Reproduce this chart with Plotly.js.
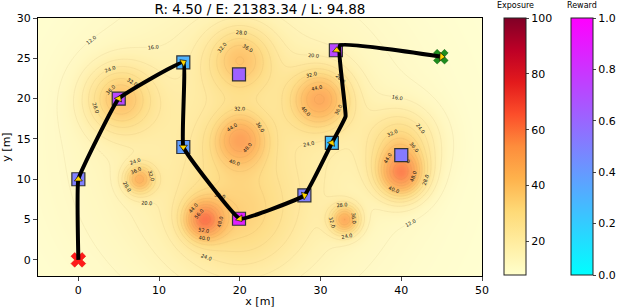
<!DOCTYPE html>
<html>
<head>
<meta charset="utf-8">
<script src="https://cdn.plot.ly/plotly-3.0.1.min.js"></script>
<style>html,body{margin:0;padding:0;background:#fff;}#chart{width:618px;height:308px;}</style>
</head>
<body>
<div id="chart"></div>
<script>
// ---- Exposure hotspots ----
const hotX   = [5,   20,  20,  7.5, 15.5, 20, 30,  40,   40,   33];
const hotY   = [20,  25,  15,  10,  5,    5,  20,  10.5, 14.5, 5];
const hotAmp = [25,  21,  26,  28,  33,   14, 30,  38,   20,   32];
const hotSig = [2.9, 2.9, 2.3, 1.3, 1.7,  5,  2.6, 2.1,  3.0,  1.3];
// broad background exposure
const bgLevel = 8, bgX = 20, bgY = 14, bgAmp = 16, bgSig = 13;

// ---- Path (waypoints travelled) ----
const pathX = [0, 0, 5, 13, 13, 20, 28, 31.4, 33.1, 32.4, 45];
const pathY = [0, 10, 20, 24.5, 14, 5.1, 8, 14.5, 17.8, 26.6, 25.2];
// arrow markers at the real waypoints
const arrowX = [0, 0, 5, 13, 13, 20, 28, 31.4, 32, 45];
const arrowY = [0, 10, 20, 24.5, 14, 5.1, 8, 14.5, 26, 25.2];

// ---- Reward squares ----
const rewX = [0,   5,    13,  19.9, 13,   19.9, 28,  31.4, 31.9, 40];
const rewY = [10,  20,   24.5, 23,  14,   5.1,  8,   14.5, 26,   13];
const rewV = [0.5, 0.72, 0.3, 0.62, 0.38, 0.88, 0.5, 0.25, 0.72, 0.52];

const startPt = [0, 0];
const endPt = [44.9, 25.2];

const titleText = 'R: 4.50 / E: 21383.34 / L: 94.88';

// ---- build grid ----
const gx = [], gy = [];
for (let x = -5; x <= 50.001; x += 0.25) gx.push(+x.toFixed(2));
for (let y = -2; y <= 30.001; y += 0.25) gy.push(+y.toFixed(2));
const gz = gy.map(y => gx.map(x => {
  let v = bgLevel + bgAmp * Math.exp(-((x-bgX)**2 + (y-bgY)**2) / (2*bgSig*bgSig));
  for (let i = 0; i < hotX.length; i++) {
    v += hotAmp[i] * Math.exp(-((x-hotX[i])**2 + (y-hotY[i])**2) / (2*hotSig[i]*hotSig[i]));
  }
  return v;
}));

const ylorrd = [
  [0, 'rgb(255,255,204)'], [0.125, 'rgb(255,237,160)'], [0.25, 'rgb(254,217,118)'],
  [0.375, 'rgb(254,178,76)'], [0.5, 'rgb(253,141,60)'], [0.625, 'rgb(252,78,42)'],
  [0.75, 'rgb(227,26,28)'], [0.875, 'rgb(189,0,38)'], [1, 'rgb(128,0,38)']
];

const traces = [
  {
    type: 'heatmap', x: gx, y: gy, z: gz, zsmooth: 'best',
    colorscale: ylorrd, zmin: 8, zmax: 100, opacity: 0.86,
    hoverinfo: 'skip',
    colorbar: {
      x: (504 - 38) / 444, xanchor: 'left', y: 1, yanchor: 'top',
      len: 257, lenmode: 'pixels', thickness: 22, thicknessmode: 'pixels',
      outlinecolor: '#222', outlinewidth: 1, xpad: 0, ypad: 0,
      tickvals: [20, 40, 60, 80, 100], ticks: 'outside', ticklen: 3,
      tickfont: {size: 11, color: '#000'}
    }
  },
  {
    type: 'contour', x: gx, y: gy, z: gz, showscale: false, hoverinfo: 'skip',
    contours: {coloring: 'none', start: 12, end: 68, size: 4, showlabels: true,
               labelformat: '.1f',
               labelfont: {size: 5, color: '#111'}},
    line: {color: 'rgba(170,130,80,0.18)', width: 0.5, smoothing: 1}
  },
  {
    type: 'scatter', mode: 'markers', x: rewX, y: rewY, hoverinfo: 'skip',
    marker: {
      symbol: 'square', size: 13, color: rewV, cmin: 0, cmax: 1,
      colorscale: [[0, '#00ffff'], [1, '#ff00ff']],
      line: {color: '#333', width: 1.2},
      colorbar: {
        x: (571 - 38) / 444, xanchor: 'left', y: 1, yanchor: 'top',
        len: 257, lenmode: 'pixels', thickness: 22, thicknessmode: 'pixels',
        outlinecolor: '#222', outlinewidth: 1, xpad: 0, ypad: 0,
        tickvals: [0, 0.2, 0.4, 0.6, 0.8, 1.0], tickformat: '.1f',
        ticks: 'outside', ticklen: 3, tickfont: {size: 11, color: '#000'}
      }
    }
  },
  {
    type: 'scatter', mode: 'markers', x: [startPt[0]], y: [startPt[1]], hoverinfo: 'skip',
    marker: {symbol: 'x', size: 13, color: '#ff1a1a', line: {color: '#e00000', width: 0.5}}
  },
  {
    type: 'scatter', mode: 'markers', x: [endPt[0]], y: [endPt[1]], hoverinfo: 'skip',
    marker: {symbol: 'x', size: 13, color: '#1e8c1e', line: {color: '#106010', width: 0.5}}
  },
  {
    type: 'scatter', mode: 'lines', x: pathX, y: pathY, hoverinfo: 'skip',
    line: {color: '#000', width: 4, shape: 'spline', smoothing: 0.25}
  },
  {
    type: 'scatter', mode: 'markers', x: arrowX, y: arrowY, hoverinfo: 'skip',
    marker: {symbol: 'triangle-up', size: 7, color: '#ffd400', angleref: 'previous',
             line: {color: '#000', width: 0.6}}
  }
];

const layout = {
  width: 618, height: 308,
  margin: {l: 38, r: 136, t: 18, b: 32, autoexpand: false},
  paper_bgcolor: '#fff', plot_bgcolor: '#fff',
  font: {family: 'DejaVu Sans, sans-serif', color: '#000', size: 11},
  showlegend: false,
  title: {text: titleText, font: {size: 13.5, color: '#000'}, x: 0.5, xref: 'paper',
          y: 1 - 9/308, yanchor: 'middle', yref: 'container'},
  xaxis: {range: [-5, 50], tickvals: [0, 10, 20, 30, 40, 50], ticks: 'outside', ticklen: 4,
          showline: true, mirror: true, linecolor: '#000', linewidth: 1, showgrid: false,
          zeroline: false, tickfont: {size: 11},
          title: {text: 'x [m]', font: {size: 11}, standoff: 0}},
  yaxis: {range: [-2, 30], tickvals: [0, 5, 10, 15, 20, 25, 30], ticks: 'outside', ticklen: 4,
          showline: true, mirror: true, linecolor: '#000', linewidth: 1, showgrid: false,
          zeroline: false, tickfont: {size: 11},
          title: {text: 'y [m]', font: {size: 11}, standoff: 4}},
  annotations: [
    {text: 'Exposure', xref: 'paper', yref: 'paper', x: (515 - 38) / 444, y: 1 + 12 / 258,
     xanchor: 'center', yanchor: 'middle', showarrow: false, font: {size: 8}},
    {text: 'Reward', xref: 'paper', yref: 'paper', x: (582 - 38) / 444, y: 1 + 12 / 258,
     xanchor: 'center', yanchor: 'middle', showarrow: false, font: {size: 8}}
  ]
};

Plotly.newPlot('chart', traces, layout, {staticPlot: true, displayModeBar: false});
</script>
</body>
</html>
